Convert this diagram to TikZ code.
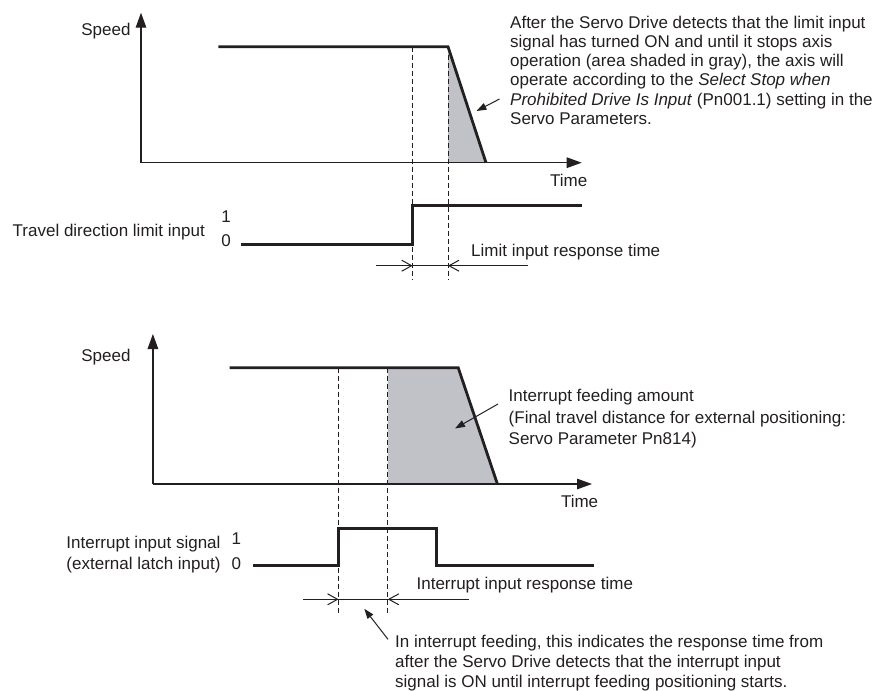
\documentclass[tikz,border=0pt]{standalone}
\usepackage{fontspec}
\setmainfont{Liberation Sans}
\usetikzlibrary{arrows.meta}
\definecolor{ink}{HTML}{231F20}
\definecolor{shadegray}{RGB}{192,194,200}
\begin{document}
\begin{tikzpicture}[x=1pt,y=-1pt,
  txt/.style={inner sep=0pt, text=ink, font=\fontsize{17}{20}\selectfont},
  one/.style={txt, text height=12.2pt, text depth=0pt},
  axisline/.style={draw=ink, line width=1.3pt, -{Triangle[length=15pt,width=10.5pt]}},
  prof/.style={draw=ink, line width=2.8pt, line join=miter},
  guide/.style={draw=ink, line width=1pt, dash pattern=on 5pt off 3pt},
  dimline/.style={draw=ink, line width=1pt},
  barb/.style={draw=ink, line width=1pt, -{Straight Barb[length=10pt,width=11pt]}},
  pointer/.style={draw=ink, line width=1pt, -{Triangle[length=10pt,width=7pt]}},
]
\useasboundingbox (0,0) rectangle (877,690);

% ================= TOP CHART =================
\coordinate (O1) at (141,162.7);
\coordinate (Y1) at (141,12.7);
\coordinate (X1) at (581.7,162.7);
\coordinate (sA1) at (218.3,46.7);
\coordinate (sB1) at (448,46.7);
\coordinate (sC1) at (486,162.7);
\coordinate (gA1) at (412.7,46.7);
\coordinate (gA1e) at (412.7,280);
\coordinate (gB1e) at (448,280);
\coordinate (base1) at (448,162.7);

\fill[shadegray] (sB1) -- (sC1) -- (base1) -- cycle;
\draw[axisline] (O1) -- (Y1);
\draw[axisline] (O1) -- (X1);
\draw[guide] (gA1) -- (gA1e);
\draw[guide] (sB1) -- (gB1e);
\draw[prof] (sA1) -- (sB1) -- (sC1);

% signal
\coordinate (p1a) at (240.7,244.3);
\coordinate (p1b) at (412.7,244.3);
\coordinate (p1c) at (412.7,205.7);
\coordinate (p1d) at (581.7,205.7);
\draw[prof] (p1a) -- (p1b) -- (p1c) -- (p1d);

% dimension
\coordinate (dA1) at (376,265.7);
\coordinate (dB1) at (528,265.7);
\coordinate (dL1) at (412.7,265.7);
\coordinate (dR1) at (448,265.7);
\draw[dimline] (dA1) -- (dB1);
\draw[barb] (390,265.7) -- (dL1);
\draw[barb] (470,265.7) -- (dR1);

\node[one, anchor=east] (speed1) at (130.7,29.3) {Speed};
\node[one] (time1) at (568.7,180) {Time};
\node[one, anchor=east] (tdl) at (205,230) {Travel direction limit input};
\node[one] (one1) at (226,216.7) {1};
\node[one] (zero1) at (226,240.7) {0};
\node[one, anchor=west] (lirt) at (471,250) {Limit input response time};
\node[txt, anchor=north west, align=left, font=\fontsize{17}{19.3}\selectfont] (note1) at (510,15.5)
 {After the Servo Drive detects that the limit input\\
  signal has turned ON and until it stops axis\\
  operation (area shaded in gray), the axis will\\
  operate according to the \textit{Select Stop when}\\
  \textit{Prohibited Drive Is Input} (Pn001.1) setting in the\\
  Servo Parameters.};
\coordinate (ptr1s) at (499.5,99);
\coordinate (ptr1e) at (476.5,111);
\draw[pointer] (ptr1s) -- (ptr1e);

% ================= BOTTOM CHART =================
\coordinate (O2) at (152.9,484);
\coordinate (Y2) at (152.9,334);
\coordinate (X2) at (592,484);
\coordinate (sA2) at (229.6,367.7);
\coordinate (sB2) at (458.2,367.7);
\coordinate (sC2) at (497.4,484);
\coordinate (gA2) at (338.6,367.7);
\coordinate (gA2e) at (338.6,612.7);
\coordinate (gB2) at (387.8,367.7);
\coordinate (gB2e) at (387.8,612.7);
\coordinate (base2) at (387.8,484);

\fill[shadegray] (gB2) -- (sB2) -- (sC2) -- (base2) -- cycle;
\draw[axisline] (O2) -- (Y2);
\draw[axisline] (O2) -- (X2);
\draw[guide] (gA2) -- (gA2e);
\draw[guide] (gB2) -- (gB2e);
\draw[prof] (sA2) -- (sB2) -- (sC2);

\coordinate (p2a) at (252.8,565.5);
\coordinate (p2b) at (338.6,565.5);
\coordinate (p2c) at (338.6,528.3);
\coordinate (p2d) at (436.8,528.3);
\coordinate (p2e) at (436.8,565.5);
\coordinate (p2f) at (593.9,565.5);
\draw[prof] (p2a) -- (p2b) -- (p2c) -- (p2d) -- (p2e) -- (p2f);

\coordinate (dA2) at (302.8,599.3);
\coordinate (dB2) at (468.9,599.3);
\coordinate (dL2) at (338.6,599.3);
\coordinate (dR2) at (387.8,599.3);
\draw[dimline] (dA2) -- (dB2);
\draw[barb] (316,599.3) -- (dL2);
\draw[barb] (410,599.3) -- (dR2);

\node[one, anchor=east] (speed2) at (130.7,355) {Speed};
\node[one] (time2) at (579.6,501.7) {Time};
\node[txt, anchor=north east, align=right, font=\fontsize{17}{21.5}\selectfont] (iis) at (220.7,535.5)
 {Interrupt input signal\\(external latch input)};
\node[one] (one2) at (236.3,538.3) {1};
\node[one] (zero2) at (236.3,563.8) {0};
\node[one, anchor=west] (iirt) at (416.4,583.3) {Interrupt input response time};
\node[txt, anchor=north west, align=left, font=\fontsize{17}{21.8}\selectfont] (note2) at (508.5,388.8)
 {Interrupt feeding amount\\
  (Final travel distance for external positioning:\\
  Servo Parameter Pn814)};
\coordinate (ptr2s) at (498,404);
\coordinate (ptr2e) at (455,428.5);
\draw[pointer] (ptr2s) -- (ptr2e);

\node[txt, anchor=north west, align=left, font=\fontsize{17}{20.2}\selectfont] (note3) at (395,634.8)
 {In interrupt feeding, this indicates the response time from\\
  after the Servo Drive detects that the interrupt input\\
  signal is ON until interrupt feeding positioning starts.};
\coordinate (ptr3s) at (388,639.3);
\coordinate (ptr3e) at (364.3,608.8);
\draw[pointer] (ptr3s) -- (ptr3e);
\end{tikzpicture}
\end{document}
